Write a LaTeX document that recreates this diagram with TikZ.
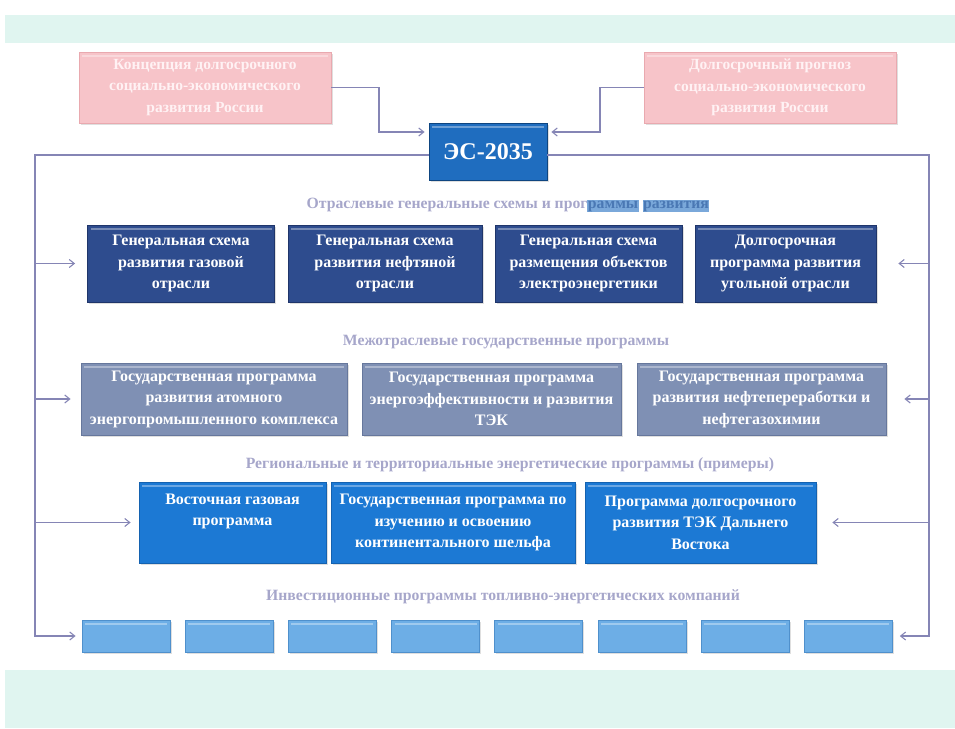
\documentclass[tikz,border=0pt]{standalone}
\usepackage{fontspec}
\setmainfont{Liberation Serif}
\usetikzlibrary{arrows.meta,shadows}
\definecolor{mint}{HTML}{E0F5F0}
\definecolor{pinkfill}{HTML}{F7C4C9}
\definecolor{pinkdraw}{HTML}{E9A9AF}
\definecolor{pinktext}{HTML}{FFF2F4}
\definecolor{esfill}{HTML}{1F6DBF}
\definecolor{esdraw}{HTML}{0E4580}
\definecolor{onefill}{HTML}{2E4C8E}
\definecolor{onedraw}{HTML}{1F356A}
\definecolor{twofill}{HTML}{7F90B4}
\definecolor{twodraw}{HTML}{66779C}
\definecolor{threefill}{HTML}{1C79D4}
\definecolor{threedraw}{HTML}{1462B0}
\definecolor{fourfill}{HTML}{6DAEE6}
\definecolor{fourdraw}{HTML}{4F90CC}
\definecolor{connc}{HTML}{8585B5}
\definecolor{labc}{HTML}{A6A6CA}
\definecolor{hlbg}{HTML}{7AA8DA}
\definecolor{hltx}{HTML}{4A78B4}
\newcommand\myhl[1]{{\setlength{\fboxsep}{0.5pt}\colorbox{hlbg}{\textcolor{hltx}{#1}}}}
\begin{document}
\begin{tikzpicture}[x=1pt,y=-1pt,
  basebox/.style={draw, line width=0.8pt, inner sep=2pt, align=center, text=white,
    font=\bfseries\fontsize{16}{21.5}\selectfont,
    drop shadow={opacity=0.25,shadow xshift=1.5pt,shadow yshift=-1.5pt},
    path picture={\draw[white,opacity=0.35,line width=1.6pt]
      ([yshift=-4pt,xshift=3pt]path picture bounding box.north west) --
      ([yshift=-4pt,xshift=-3pt]path picture bounding box.north east);}},
  pinkbox/.style={basebox, fill=pinkfill, draw=pinkdraw, text=pinktext,
    minimum width=252pt, minimum height=71pt, font=\bfseries\fontsize{15.5}{21.5}\selectfont},
  esbox/.style={basebox, fill=esfill, draw=esdraw, minimum width=118pt, minimum height=57pt,
    font=\bfseries\fontsize{24}{28}\selectfont},
  onebox/.style={basebox, fill=onefill, draw=onedraw, minimum height=77pt},
  twobox/.style={basebox, fill=twofill, draw=twodraw, minimum height=72pt},
  threebox/.style={basebox, fill=threefill, draw=threedraw, minimum height=81pt},
  fourbox/.style={basebox, fill=fourfill, draw=fourdraw, minimum height=32pt, minimum width=88pt},
  lab/.style={text=labc, font=\bfseries\fontsize{15.7}{18}\selectfont, inner sep=1pt},
  conn/.style={draw=connc, line width=1.1pt},
  arr/.style={conn, -{Straight Barb[length=5pt,width=8pt]}}
]
\useasboundingbox (0,0) rectangle (955,728);
\fill[mint] (5,15) rectangle (955,43);
\fill[mint] (5,670) rectangle (955,728);

% top
\node (pl) [pinkbox] at (205,87.5) {Концепция долгосрочного\\социально-экономического\\развития России};
\node (pr) [pinkbox] at (770,87.5) {Долгосрочный прогноз\\социально-экономического\\развития России};
\node (es) [esbox] at (488,151.5) {ЭС-2035};

% row 1
\node (lab1) [lab] at (508,205) {Отраслевые генеральные схемы и прог\myhl{раммы} \myhl{развития}};
\node (r1a) [onebox, minimum width=187pt] at (181,263.5) {Генеральная схема\\развития газовой\\отрасли};
\node (r1b) [onebox, minimum width=194pt] at (385,263.5) {Генеральная схема\\развития нефтяной\\отрасли};
\node (r1c) [onebox, minimum width=187pt] at (588.5,263.5) {Генеральная схема\\размещения объектов\\электроэнергетики};
\node (r1d) [onebox, minimum width=181pt] at (785.5,263.5) {Долгосрочная\\программа развития\\угольной отрасли};

% row 2
\node (lab2) [lab] at (506,342) {Межотраслевые государственные программы};
\node (r2a) [twobox, minimum width=266pt] at (214,399) {Государственная программа\\развития атомного\\энергопромышленного комплекса};
\node (r2b) [twobox, minimum width=259pt] at (491.5,399) {Государственная программа\\энергоэффективности и развития\\ТЭК};
\node (r2c) [twobox, minimum width=249pt] at (761.5,399) {Государственная программа\\развития нефтепереработки и\\нефтегазохимии};

% row 3
\node (lab3) [lab] at (510,465) {Региональные и территориальные энергетические программы (примеры)};
\node (r3a) [threebox, minimum width=187pt] at (232.5,522.5) {Восточная газовая\\программа\\\vphantom{Ag}};
\node (r3b) [threebox, minimum width=244pt] at (453,522.5) {Государственная программа по\\изучению и освоению\\континентального шельфа};
\node (r3c) [threebox, minimum width=231pt] at (700.5,522.5) {Программа долгосрочного\\развития ТЭК Дальнего\\Востока};

% row 4
\node (lab4) [lab] at (503,597) {Инвестиционные программы топливно-энергетических компаний};
\foreach \i in {1,...,8}{
  \node (s\i) [fourbox] at ({126+(\i-1)*103.2},636) {};
}

% connectors
\coordinate (al) at (379,132);
\coordinate (ar) at (600,132);
\draw[arr, shorten >=4pt] (pl.east) -| (al) -- (es.west |- al);
\draw[arr, shorten >=4pt] (pr.west) -| (ar) -- (es.east |- ar);

\coordinate (fl) at (35,155);
\coordinate (fr) at (929,155);
\draw[arr, shorten >=6pt] (es.west |- fl) -- (fl) |- (s1.west);
\draw[arr, shorten >=7pt] (es.east |- fr) -- (fr) |- (s8.east);

\draw[arr, shorten >=12pt] (fl |- r1a.west) -- (r1a.west);
\draw[arr, shorten >=10pt] (fl |- r2a.west) -- (r2a.west);
\draw[arr, shorten >=8pt] (fl |- r3a.west) -- (r3a.west);
\draw[arr, shorten >=22pt] (fr |- r1d.east) -- (r1d.east);
\draw[arr, shorten >=18pt] (fr |- r2c.east) -- (r2c.east);
\draw[arr, shorten >=16pt] (fr |- r3c.east) -- (r3c.east);
\end{tikzpicture}
\end{document}
